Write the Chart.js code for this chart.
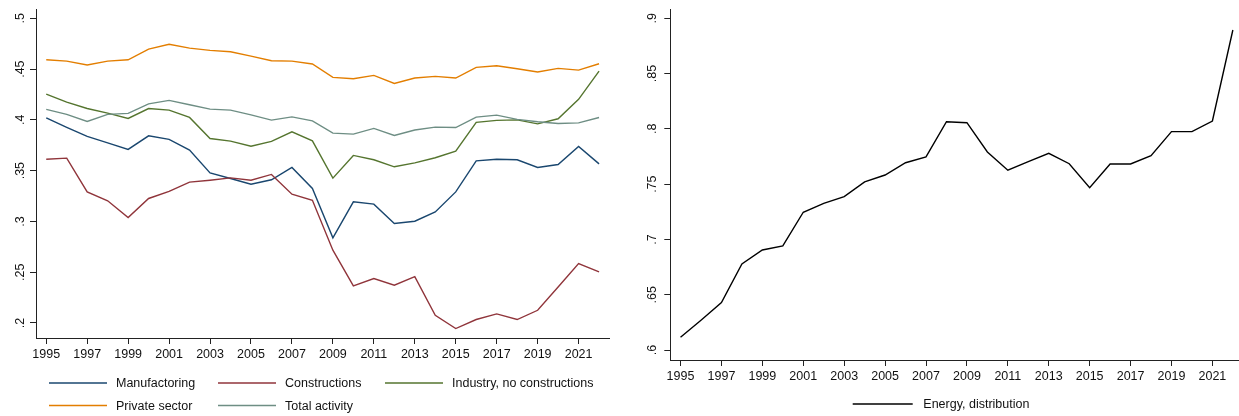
<!DOCTYPE html>
<html><head><meta charset="utf-8">
<script src="https://cdn.jsdelivr.net/npm/chart.js@4.4.1/dist/chart.umd.min.js"></script>
<style>
html,body{margin:0;padding:0;background:#fff;width:1239px;height:416px;overflow:hidden}
#l{position:absolute;left:0;top:0}
#r{position:absolute;left:620px;top:0}
</style>
</head><body>
<canvas id="l" width="620" height="416"></canvas>
<canvas id="r" width="619" height="416"></canvas>
<script>
const years = [1995,1996,1997,1998,1999,2000,2001,2002,2003,2004,2005,2006,2007,2008,2009,2010,2011,2012,2013,2014,2015,2016,2017,2018,2019,2020,2021,2022];
const manufactoring = [0.402,0.3926,0.3837,0.3774,0.3709,0.3843,0.3808,0.3702,0.3478,0.3423,0.3367,0.341,0.3532,0.3325,0.2838,0.3193,0.317,0.298,0.3002,0.3094,0.3291,0.3597,0.3613,0.3607,0.3532,0.3561,0.3739,0.3567];
const constructions = [0.3613,0.3623,0.3291,0.3203,0.3039,0.3226,0.3295,0.3387,0.3406,0.3429,0.3406,0.3463,0.3268,0.3209,0.2717,0.2365,0.2438,0.2372,0.2457,0.2076,0.1945,0.2034,0.2089,0.2034,0.2125,0.2355,0.2585,0.2503];
const industryNoConstructions = [0.4254,0.4175,0.4112,0.4067,0.4014,0.4112,0.4096,0.4024,0.3817,0.3791,0.3741,0.3788,0.3883,0.3794,0.3426,0.365,0.3607,0.3538,0.3577,0.3627,0.3692,0.3975,0.3995,0.4,0.3961,0.4011,0.4202,0.448];
const privateSector = [0.4592,0.4579,0.454,0.4579,0.4592,0.4697,0.4744,0.4707,0.4685,0.4671,0.4628,0.4582,0.4579,0.455,0.4419,0.4405,0.4438,0.4359,0.4412,0.4428,0.4412,0.4517,0.4533,0.4503,0.4471,0.4507,0.449,0.4553];
const totalActivity = [0.4103,0.4054,0.3985,0.4054,0.4064,0.4158,0.4192,0.4149,0.4106,0.4096,0.405,0.3998,0.403,0.3991,0.387,0.386,0.3916,0.3847,0.39,0.3929,0.3925,0.4027,0.4047,0.4005,0.3981,0.3965,0.3971,0.4024];
const energyDistribution = [0.6116,0.627,0.6429,0.6778,0.6905,0.6941,0.7246,0.7327,0.7387,0.752,0.7583,0.7694,0.7746,0.8065,0.8056,0.7791,0.7626,0.7703,0.7779,0.7685,0.7468,0.7683,0.7683,0.7758,0.7975,0.7975,0.8071,0.8894];
const xTickValues = [1995,1997,1999,2001,2003,2005,2007,2009,2011,2013,2015,2017,2019,2021];
const leftYTicks = [0.2,0.25,0.3,0.35,0.4,0.45,0.5];
const leftYLabels = ['.2','.25','.3','.35','.4','.45','.5'];
const rightYTicks = [0.6,0.65,0.7,0.75,0.8,0.85,0.9];
const rightYLabels = ['.6','.65','.7','.75','.8','.85','.9'];
const leftSeriesNames = ['Manufactoring','Constructions','Industry, no constructions','Private sector','Total activity'];
const rightSeriesName = 'Energy, distribution';

const FONT = '"Liberation Sans", Arial, Helvetica, sans-serif';
Chart.defaults.font.family = FONT;
Chart.defaults.font.size = 12.5;
Chart.defaults.color = '#111';

const pts = arr => years.map((y,i)=>({x:y, y:arr[i]}));

const rotYLabels = {
  id:'rotYLabels',
  afterDraw(chart, args, o){
    const s = chart.scales.y, ctx = chart.ctx;
    ctx.save();
    ctx.fillStyle = '#111';
    ctx.font = '12.5px ' + FONT;
    ctx.textAlign = 'center';
    ctx.textBaseline = 'alphabetic';
    o.values.forEach((v,i)=>{
      const y = s.getPixelForValue(v);
      ctx.save(); ctx.translate(o.x, y); ctx.rotate(-Math.PI/2);
      ctx.fillText(o.labels[i], 0, 0);
      ctx.restore();
    });
    ctx.restore();
  }
};
const gridLegend = {
  id:'gridLegend',
  afterDraw(chart, args, o){
    const ctx = chart.ctx;
    ctx.save();
    ctx.font = '12.5px ' + FONT;
    ctx.textAlign = 'left';
    ctx.textBaseline = 'middle';
    chart.data.datasets.forEach((ds,i)=>{
      const p = o.slots[i];
      ctx.strokeStyle = ds.borderColor; ctx.lineWidth = 1.4;
      ctx.beginPath(); ctx.moveTo(p[0], p[1]); ctx.lineTo(p[0]+o.sample, p[1]); ctx.stroke();
      ctx.fillStyle = '#111';
      ctx.fillText(ds.label, p[0]+o.gap, p[1]+1);
    });
    ctx.restore();
  }
};

function makeOpts(xr, yr, ticksY, yWidth, pad){
  return {
    responsive:false, animation:false, devicePixelRatio:1,
    layout:{padding:pad},
    elements:{point:{radius:0}, line:{tension:0, borderWidth:1.4}},
    plugins:{legend:{display:false}, tooltip:{enabled:false}},
    scales:{
      x:{type:'linear', min:xr[0], max:xr[1],
        afterBuildTicks:s=>{s.ticks = xTickValues.map(v=>({value:v}));},
        afterFit:s=>{s.height = 30;},
        ticks:{callback:v=>String(v), font:{size:12.5}, color:'#111', padding:3, maxRotation:0, autoSkip:false},
        grid:{display:true, drawOnChartArea:false, drawTicks:true, tickLength:6, color:'#222'},
        border:{display:true, color:'#222', width:1}},
      y:{type:'linear', min:yr[0], max:yr[1],
        afterBuildTicks:s=>{s.ticks = ticksY.map(v=>({value:v}));},
        afterFit:s=>{s.width = yWidth;},
        ticks:{display:false},
        grid:{display:true, drawOnChartArea:false, drawTicks:true, tickLength:6, color:'#222'},
        border:{display:true, color:'#222', width:1}}
    }
  };
}

const leftColors = ['#1a476f','#90353b','#55752f','#e37e00','#6e8e84'];
const leftData = [manufactoring, constructions, industryNoConstructions, privateSector, totalActivity];
const lo = makeOpts([1994.5,2022.5],[0.1852,0.5092],leftYTicks,36,{left:0,top:9,right:10.7,bottom:48});
lo.plugins.rotYLabels = {x:24, values:leftYTicks, labels:leftYLabels};
lo.plugins.gridLegend = {sample:58, gap:67, slots:[[49,383],[218,383],[385,383],[49,405.5],[218,405.5]]};
new Chart(document.getElementById('l'), {
  type:'line',
  data:{datasets:leftData.map((d,i)=>({label:leftSeriesNames[i], data:pts(d), borderColor:leftColors[i], backgroundColor:leftColors[i], fill:false, order:5-i}))},
  options:lo,
  plugins:[rotYLabels, gridLegend]
});

const ro = makeOpts([1994.5,2022.3],[0.591,0.9084],rightYTicks,50.3,{left:0,top:9,right:0,bottom:26});
ro.plugins.rotYLabels = {x:36.3, values:rightYTicks, labels:rightYLabels};
ro.plugins.gridLegend = {sample:60, gap:70.6, slots:[[232.7,404]]};
new Chart(document.getElementById('r'), {
  type:'line',
  data:{datasets:[{label:rightSeriesName, data:pts(energyDistribution), borderColor:'#000', backgroundColor:'#000', fill:false}]},
  options:ro,
  plugins:[rotYLabels, gridLegend]
});
</script>
</body></html>
